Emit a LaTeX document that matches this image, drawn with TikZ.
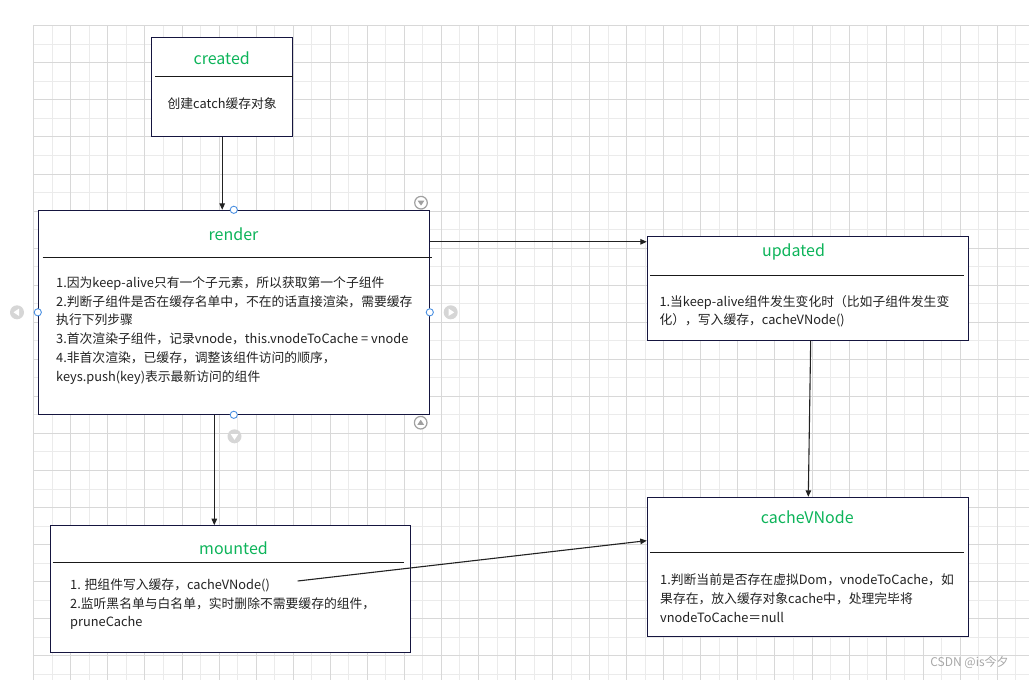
\documentclass[tikz,border=0pt]{standalone}
\usepackage{fontspec}
\setmainfont{Noto Sans CJK SC}
\usetikzlibrary{arrows.meta,calc}
\definecolor{boxline}{HTML}{15153F}
\definecolor{ttlc}{HTML}{0DB45A}
\definecolor{txt}{HTML}{222222}
\definecolor{gmin}{HTML}{EBEBEB}
\definecolor{gmaj}{HTML}{D8D8D8}
\definecolor{arrc}{HTML}{222222}
\definecolor{handle}{HTML}{4A90E2}
\definecolor{icon}{HTML}{A0A0A0}
\definecolor{iconfill}{HTML}{D6D6D6}
\definecolor{wm}{HTML}{A8A8A8}
\begin{document}
\begin{tikzpicture}[x=1pt,y=-1pt,
 box/.style={draw=boxline,line width=1pt,fill=white,inner sep=0pt},
 sepline/.style={draw=black!90,line width=1pt},
 ttl/.style={text=ttlc,font=\fontsize{16}{18}\selectfont,inner sep=0pt,anchor=base},
 body/.style={text=txt,font=\fontsize{12.8}{15}\selectfont,inner sep=0pt,anchor=west,text height=11.2pt,text depth=1.6pt},
 arr/.style={draw=arrc,line width=1.1pt,-{Triangle[length=6.5pt,width=5.5pt]}},
 hdl/.style={draw=handle,line width=0.9pt,fill=white},
 iconring/.style={draw=icon,line width=1.2pt,fill=white},
 iconfull/.style={fill=iconfill},
]
\useasboundingbox (0,0) rectangle (1029,680);
\fill[white] (0,0) rectangle (1029,680);
% grid
\foreach \i in {1,3,...,53} {\pgfmathsetmacro\xx{round(33.3+18.53*\i)+0.5}\draw[gmin,line width=1pt] (\xx,25) -- (\xx,680);}
\foreach \i in {1,3,...,35} {\pgfmathsetmacro\yy{round(25.3+18.53*\i)+0.5}\draw[gmin,line width=1pt] (33,\yy) -- (1029,\yy);}
\foreach \i in {0,2,...,52} {\pgfmathsetmacro\xx{round(33.3+18.53*\i)+0.5}\draw[gmaj,line width=1pt] (\xx,25) -- (\xx,680);}
\foreach \i in {0,2,...,34} {\pgfmathsetmacro\yy{round(25.3+18.53*\i)+0.5}\draw[gmaj,line width=1pt] (33,\yy) -- (1029,\yy);}

% boxes
\node[box,minimum width=141pt,minimum height=98.7pt] (created) at (222.2,86.65) {};
\node[box,minimum width=391pt,minimum height=204pt] (render) at (233.8,312.3) {};
\node[box,minimum width=321pt,minimum height=103.3pt] (updated) at (807.8,288.35) {};
\node[box,minimum width=321pt,minimum height=138.7pt] (cacheVNode) at (807.8,566.65) {};
\node[box,minimum width=359.3pt,minimum height=127pt] (mounted) at (230.35,589.2) {};

% separators
\draw[sepline] (155,76) -- (292.7,76);
\draw[sepline] (42.7,257) -- (431.7,257);
\draw[sepline] (650,275) -- (964.3,275);
\draw[sepline] (650,552) -- (964.3,552);
\draw[sepline] (52.7,562.3) -- (404.3,562.3);

% titles
\node[ttl] (t-created) at (221.7,64.3) {created};
\node[ttl] (t-render) at (233.5,240) {render};
\node[ttl] (t-updated) at (793.5,256.7) {updated};
\node[ttl] (t-cache) at (807.3,523.3) {cacheVNode};
\node[ttl] (t-mounted) at (233.5,554.3) {mounted};

% bodies
\node[body,anchor=center] (b-created) at (222.2,104) {创建catch缓存对象};

\node[body] (r1) at (56,282.3) {1.因为keep-alive只有一个子元素，所以获取第一个子组件};
\node[body] (r2) at (56,301.2) {2.判断子组件是否在缓存名单中，不在的话直接渲染，需要缓存};
\node[body] (r3) at (56,320.1) {执行下列步骤};
\node[body] (r4) at (56,339) {3.首次渲染子组件，记录vnode，this.vnodeToCache = vnode};
\node[body] (r5) at (56,357.9) {4.非首次渲染，已缓存，调整该组件访问的顺序，};
\node[body] (r6) at (56,376.8) {keys.push(key)表示最新访问的组件};

\node[body] (u1) at (659.3,301.7) {1.当keep-alive组件发生变化时（比如子组件发生变};
\node[body] (u2) at (659.3,319.3) {化），写入缓存，cacheVNode()};

\node[body] (c1) at (660,579.3) {1.判断当前是否存在虚拟Dom，vnodeToCache，如};
\node[body] (c2) at (660,598.3) {果存在，放入缓存对象cache中，处理完毕将};
\node[body] (c3) at (660,617.3) {vnodeToCache＝null};

\node[body] (m1) at (70,584.3) {1. 把组件写入缓存，cacheVNode()};
\node[body] (m2) at (70,603.3) {2.监听黑名单与白名单，实时删除不需要缓存的组件，};
\node[body] (m3) at (70,621.7) {pruneCache};

% connectors
\draw[arr] (created.south) -- (created.south |- render.north);
\draw[arr] ([xshift=-19.5pt]render.south) -- ([xshift=-19.5pt]render.south |- mounted.north);
\draw[arr] ([yshift=-32pt]render.north east) -- ([yshift=-32pt]render.north east -| updated.west);
\draw[arr] ([xshift=2.9pt]updated.south) -- ([xshift=0.5pt]cacheVNode.north);
\coordinate (mstart) at (297.7,581);
\draw[arr] (mstart) -- ([yshift=26pt]cacheVNode.west);

% editor handles
\draw[hdl] (render.north) circle (3.6);
\draw[hdl] (render.south) circle (3.6);
\draw[hdl] (render.west) circle (3.6);
\draw[hdl] (render.east) circle (3.6);
% editor icons
\draw[iconring] (421,202.7) circle (6.3);
\fill[icon] (417.6,200.6) -- (424.4,200.6) -- (421,205.6) -- cycle;
\draw[iconring] (420.7,422.7) circle (6.3);
\fill[icon] (417.3,424.8) -- (424.1,424.8) -- (420.7,419.8) -- cycle;
\fill[iconfull] (450.7,312.3) circle (7);
\fill[white] (448.6,308.6) -- (448.6,316) -- (454.2,312.3) -- cycle;
\fill[iconfull] (17,312.3) circle (7);
\fill[white] (19.1,308.6) -- (19.1,316) -- (13.5,312.3) -- cycle;
\fill[iconfull] (234.5,436.3) circle (7);
\fill[white] (230.8,434.2) -- (238.2,434.2) -- (234.5,439.8) -- cycle;

% watermark
\node[text=wm,font=\fontsize{12}{14}\selectfont,inner sep=0pt] (wmk) at (969.5,662.5) {CSDN @is今夕};
\end{tikzpicture}
\end{document}
